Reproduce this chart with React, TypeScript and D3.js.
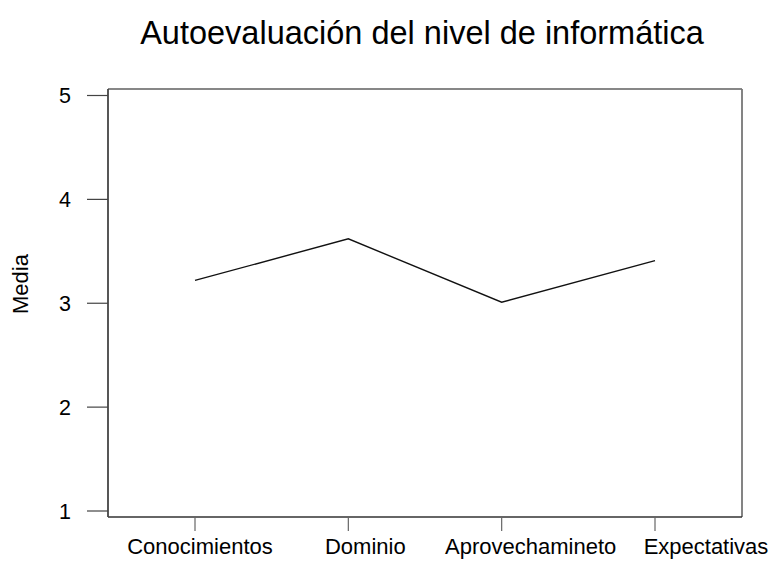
import React from "react";
import * as d3 from "d3";

const categories = ["Conocimientos", "Dominio", "Aprovechamineto", "Expectativas"];
const values = [3.22, 3.62, 3.01, 3.41];
const yTicks = [1, 2, 3, 4, 5];
const title = "Autoevaluación del nivel de informática";
const yLabel = "Media";

const W = 771;
const H = 561;
const box = { left: 108, top: 89, right: 742, bottom: 517 };
const labelDx = [5, 17, 29, 51];
const FONT = "Liberation Sans, Arial, sans-serif";

export default function App() {
  const x = d3.scalePoint<string>().domain(categories).range([195, 655]);
  const y = d3.scaleLinear().domain([1, 5]).range([511, 95.5]);
  const line = d3
    .line<number>()
    .x((_, i) => x(categories[i]) as number)
    .y((d) => y(d));

  return (
    <svg
      width={W}
      height={H}
      style={{ position: "absolute", left: 0, top: 0, background: "#fff" }}
      fontFamily={FONT}
    >
      <rect x={0} y={0} width={W} height={H} fill="#fff" />
      <text x={422} y={44} textAnchor="middle" fontSize={32.5} fill="#000">
        {title}
      </text>
      {/* box */}
      <line x1={box.left} x2={box.right} y1={box.top} y2={box.top} stroke="#111" strokeWidth={1.2} />
      <line x1={box.right} x2={box.right} y1={box.top} y2={box.bottom} stroke="#777" strokeWidth={1.8} />
      <line x1={box.left} x2={box.right} y1={box.bottom} y2={box.bottom} stroke="#333" strokeWidth={1.5} />
      <line x1={box.left} x2={box.left} y1={box.top} y2={box.bottom} stroke="#444" strokeWidth={1.8} />
      {/* y ticks */}
      {yTicks.map((t) => (
        <g key={t}>
          <line x1={87} x2={box.left} y1={y(t)} y2={y(t)} stroke="#444" strokeWidth={1.2} />
          <text x={71} y={y(t)} dy="0.36em" textAnchor="end" fontSize={21.5} fill="#000">
            {t}
          </text>
        </g>
      ))}
      {/* x ticks */}
      {categories.map((c, i) => (
        <g key={c}>
          <line
            x1={x(c) as number}
            x2={x(c) as number}
            y1={box.bottom}
            y2={531}
            stroke="#666"
            strokeWidth={1.2}
          />
          <text x={(x(c) as number) + labelDx[i]} y={554} textAnchor="middle" fontSize={22} fill="#000">
            {c}
          </text>
        </g>
      ))}
      <text
        transform={`translate(28,284) rotate(-90)`}
        textAnchor="middle"
        fontSize={22}
        fill="#000"
      >
        {yLabel}
      </text>
      <path d={line(values) || ""} fill="none" stroke="#111" strokeWidth={1.4} />
    </svg>
  );
}
